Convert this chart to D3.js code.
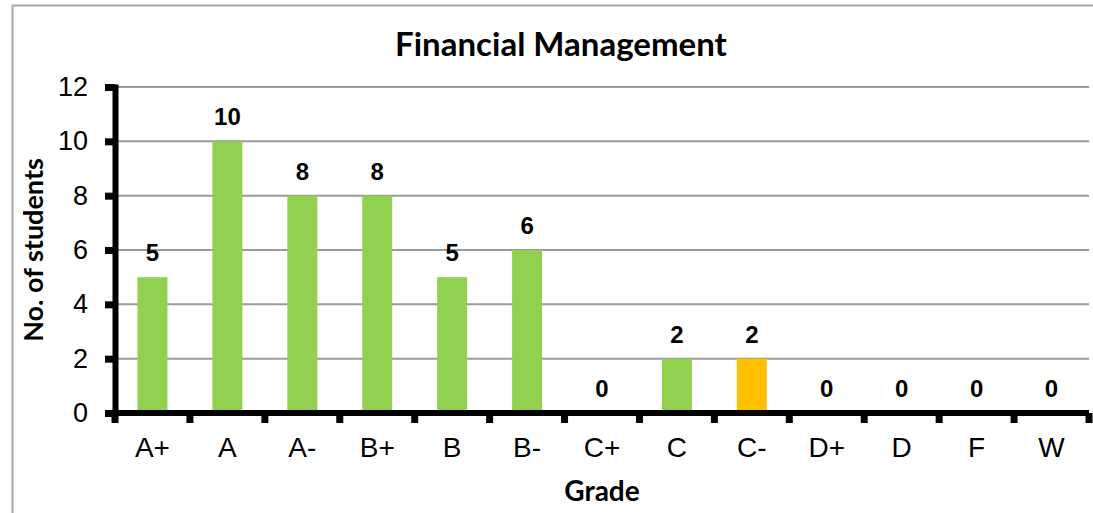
<!DOCTYPE html>
<html>
<head>
<meta charset="utf-8">
<script src="https://cdn.jsdelivr.net/npm/d3@7"></script>
<style>
    body { margin: 0; background: #fff; }
</style>
</head>
<body>
<div id="chart"></div>
<script>
//data
const grades = ['A+', 'A', 'A-', 'B+', 'B', 'B-', 'C+', 'C', 'C-', 'D+', 'D', 'F', 'W'];
const students = [5, 10, 8, 8, 5, 6, 0, 2, 2, 0, 0, 0, 0];
const highlighted = ['C-']; //bar drawn in orange
const yTicks = [0, 2, 4, 6, 8, 10, 12];

const chartTitle = 'Financial Management';
const xTitle = 'Grade';
const yTitle = 'No. of students';

const width = 1093;
const height = 513;
const margin = { top: 87, right: 4, bottom: 100, left: 115 };
const plotW = width - margin.left - margin.right;
const plotH = height - margin.top - margin.bottom;

const arial = '"Liberation Sans", Arial, sans-serif';
const titleFont = 'Lato, "Open Sans", sans-serif';

const svg = d3.select('#chart')
    .append('svg')
    .attr('width', width)
    .attr('height', height);

//outer chart frame
svg.append('rect')
    .attr('x', 12.5)
    .attr('y', 5.5)
    .attr('width', 1100)
    .attr('height', 530)
    .attr('fill', 'none')
    .attr('stroke', '#a6a6a6')
    .attr('stroke-width', 2);

const g = svg.append('g')
    .attr('transform', 'translate(' + margin.left + ',' + margin.top + ')');

//scales
const x = d3.scaleBand()
    .domain(grades)
    .range([0, plotW])
    .paddingInner(0.6)
    .paddingOuter(0.3);

const y = d3.scaleLinear()
    .domain([0, 12])
    .range([plotH, 0]);

//gridlines
g.selectAll('.grid')
    .data(yTicks.filter(d => d > 0))
    .enter().append('line')
    .attr('class', 'grid')
    .attr('x1', 0)
    .attr('x2', plotW)
    .attr('y1', d => y(d))
    .attr('y2', d => y(d))
    .attr('stroke', '#9a9a9a')
    .attr('stroke-width', 2);

//bars
const data = grades.map((grade, i) => ({ grade, value: students[i] }));

g.selectAll('.bar')
    .data(data)
    .enter().append('rect')
    .attr('class', 'bar')
    .attr('x', d => x(d.grade))
    .attr('width', x.bandwidth())
    .attr('y', d => y(d.value))
    .attr('height', d => plotH - y(d.value))
    .attr('fill', d => highlighted.includes(d.grade) ? '#ffc000' : '#92d050');

//value labels above bars
g.selectAll('.valueLabel')
    .data(data)
    .enter().append('text')
    .attr('class', 'valueLabel')
    .attr('x', d => x(d.grade) + x.bandwidth() / 2)
    .attr('y', d => y(d.value) - 16)
    .attr('text-anchor', 'middle')
    .style('font-family', arial)
    .style('font-size', '24px')
    .style('font-weight', 'bold')
    .attr('fill', '#000')
    .text(d => d.value);

//y axis
const yAxis = g.append('g')
    .call(d3.axisLeft(y).tickValues(yTicks).tickSize(10).tickSizeOuter(0).tickPadding(17));

yAxis.select('.domain')
    .attr('stroke', '#000')
    .attr('stroke-width', 6)
    .attr('stroke-linecap', 'square');

yAxis.selectAll('.tick line')
    .attr('stroke', '#000')
    .attr('stroke-width', 7);

yAxis.selectAll('.tick text')
    .style('font-family', arial)
    .style('font-size', '27px')
    .attr('fill', '#000');

//x axis: line, ticks between categories, labels
const xAxis = g.append('g')
    .attr('transform', 'translate(0,' + plotH + ')');

xAxis.append('line')
    .attr('x1', -9)
    .attr('x2', plotW)
    .attr('stroke', '#000')
    .attr('stroke-width', 6);

xAxis.selectAll('.xtick')
    .data(d3.range(grades.length + 1))
    .enter().append('line')
    .attr('class', 'xtick')
    .attr('x1', i => i * x.step())
    .attr('x2', i => i * x.step())
    .attr('y1', 0)
    .attr('y2', 10)
    .attr('stroke', '#000')
    .attr('stroke-width', 7);

xAxis.selectAll('.xlabel')
    .data(grades)
    .enter().append('text')
    .attr('class', 'xlabel')
    .attr('x', d => x(d) + x.bandwidth() / 2)
    .attr('y', 44)
    .attr('text-anchor', 'middle')
    .style('font-family', arial)
    .style('font-size', '28px')
    .attr('fill', '#000')
    .text(d => d);

//titles
svg.append('text')
    .attr('x', 561)
    .attr('y', 56)
    .attr('text-anchor', 'middle')
    .style('font-family', titleFont)
    .style('font-weight', 'bold')
    .style('font-size', '33px')
    .text(chartTitle);

svg.append('text')
    .attr('x', margin.left + plotW / 2)
    .attr('y', 501)
    .attr('text-anchor', 'middle')
    .style('font-family', titleFont)
    .style('font-weight', 'bold')
    .style('font-size', '28px')
    .text(xTitle);

svg.append('text')
    .attr('transform', 'translate(43,' + (margin.top + plotH / 2) + ') rotate(-90)')
    .attr('text-anchor', 'middle')
    .style('font-family', titleFont)
    .style('font-weight', 'bold')
    .style('font-size', '27px')
    .text(yTitle);
</script>
</body>
</html>
